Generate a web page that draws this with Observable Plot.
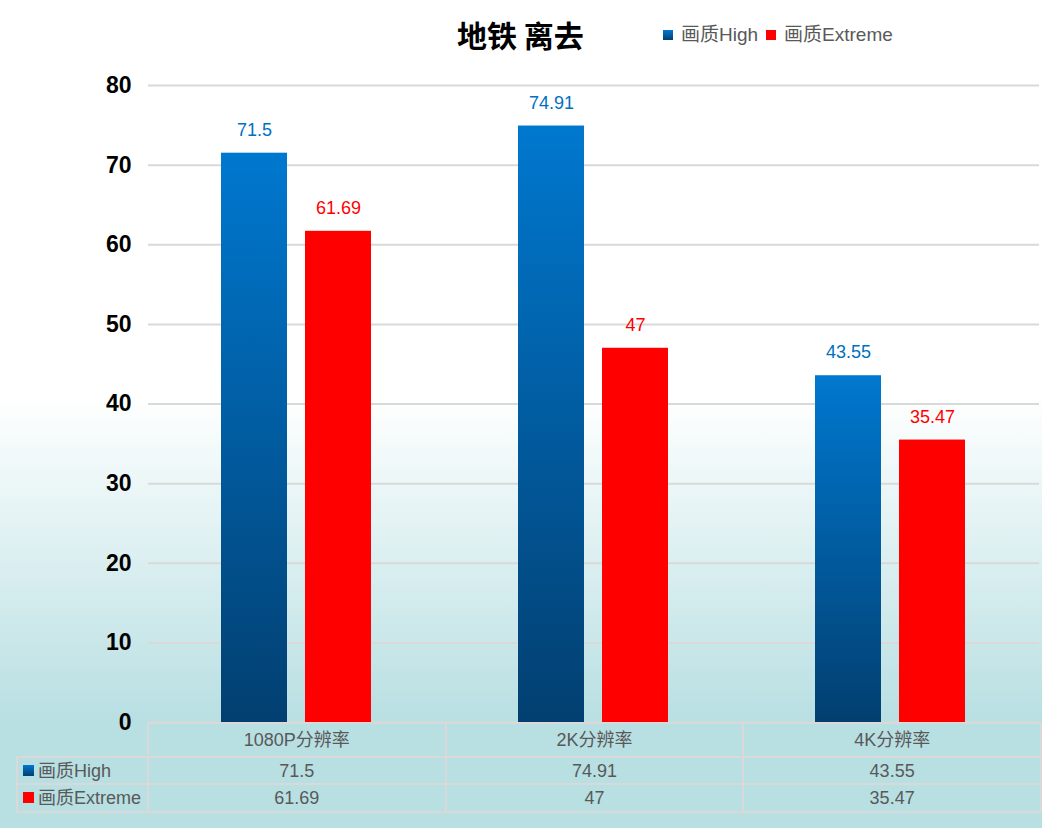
<!DOCTYPE html>
<html>
<head>
<meta charset="utf-8">
<script src="https://cdn.jsdelivr.net/npm/d3@7"></script>
<script src="https://cdn.jsdelivr.net/npm/@observablehq/plot@0.6"></script>
<style>
  html, body { margin: 0; padding: 0; }
  #wrap {
    position: relative; width: 1042px; height: 828px; overflow: hidden;
    background: linear-gradient(to bottom, #ffffff 0px, #ffffff 395px, #b8dfe2 722px, #b8dfe2 828px);
    font-family: "Liberation Sans", Arial, "Noto Sans CJK SC", sans-serif;
  }
  #head { position: relative; height: 60px; }
  #title {
    position: absolute; left: 457px; top: 14px; font-size: 30px; font-weight: 700;
    font-family: "Noto Sans CJK SC", sans-serif; color: #000; line-height: 40px; white-space: nowrap;
  }
  #legend { position: absolute; left: 663px; top: 23px; font-size: 19px; color: #595959; white-space: nowrap; line-height: 24px; }
  #legend .key { margin-right: 8px; }
  .key { display: inline-block; width: 10px; height: 10px; vertical-align: 1px; }
  .kb { background: linear-gradient(to bottom, #0078cf, #023f70); }
  .kr { background: #ff0000; }
  #chart { position: absolute; left: 0; top: 60px; }
  #tbl {
    position: absolute; left: 16px; top: 722px; border-collapse: collapse; table-layout: fixed;
    font-size: 18px; color: #595959;
  }
  #tbl td { border: 2px solid #d9d9d9; padding: 0; text-align: center; white-space: nowrap; line-height: 20px; }
  #tbl td.corner { border-top: none; border-left: none; }
  #tbl td.rh { text-align: left; padding-left: 5px; }
  #tbl td.rh .key { width: 11px; height: 11px; margin-right: 4px; }
  #tbl tr.h td { height: 32px; }
  #tbl tr.r1 td { height: 25px; }
  #tbl tr.r2 td { height: 26px; }
</style>
</head>
<body>
<div id="wrap">
  <div id="head">
    <div id="title">地铁 离去</div>
    <div id="legend"></div>
  </div>
  <div id="chart"></div>
  <table id="tbl"></table>
</div>
<script>
const categories = ["1080P分辨率", "2K分辨率", "4K分辨率"];
const seriesNames = ["画质High", "画质Extreme"];
const highValues = [71.5, 74.91, 43.55];
const extremeValues = [61.69, 47, 35.47];
const yTicks = [0, 10, 20, 30, 40, 50, 60, 70, 80];
const seriesColors = ["url(#gblue)", "#ff0000"];
const labelColors = ["#0070c0", "#ff0000"];

const high = categories.map((c, i) => ({category: c, series: seriesNames[0], value: highValues[i]}));
const extreme = categories.map((c, i) => ({category: c, series: seriesNames[1], value: extremeValues[i]}));

const chart = Plot.plot({
  width: 1042,
  height: 664,
  marginTop: 25,
  marginBottom: 2,
  marginLeft: 147,
  marginRight: 2,
  style: {background: "transparent", fontFamily: "'Liberation Sans', Arial, sans-serif", overflow: "visible"},
  fx: {domain: categories, padding: 0, axis: null, label: null},
  x: {domain: seriesNames, paddingInner: 0.212, paddingOuter: 0.857, axis: null, label: null},
  y: {domain: [0, 80], axis: null, label: null},
  marks: [
    Plot.gridY(yTicks, {stroke: "#d9d9d9", strokeWidth: 2, strokeOpacity: 1}),
    Plot.barY(high, {fx: "category", x: "series", y: "value", fill: seriesColors[0]}),
    Plot.barY(extreme, {fx: "category", x: "series", y: "value", fill: seriesColors[1]}),
    Plot.text(high, {fx: "category", x: "series", y: "value", text: d => String(d.value), dy: -23, fill: labelColors[0], fontSize: 18}),
    Plot.text(extreme, {fx: "category", x: "series", y: "value", text: d => String(d.value), dy: -23, fill: labelColors[1], fontSize: 18}),
    Plot.axisY(yTicks, {tickSize: 0, tickPadding: 17, fontSize: 23, fontWeight: "bold", fill: "#000", label: null, tickFormat: d => String(d)})
  ]
});

const defs = d3.select(chart).insert("defs", ":first-child");
const g = defs.append("linearGradient").attr("id", "gblue").attr("x1", 0).attr("y1", 0).attr("x2", 0).attr("y2", 1);
g.append("stop").attr("offset", "0%").attr("stop-color", "#0078cf");
g.append("stop").attr("offset", "100%").attr("stop-color", "#023f70");

document.getElementById("chart").appendChild(chart);

// legend
const legend = document.getElementById("legend");
legend.innerHTML =
  `<span class="key kb"></span><span>${seriesNames[0]}</span><span class="key kr" style="margin-left:8px"></span><span>${seriesNames[1]}</span>`;

// data table below the chart
const colW = (1040 - 147) / categories.length;
const tbl = document.getElementById("tbl");
let html = `<colgroup><col style="width:131px">${categories.map(() => `<col style="width:${colW}px">`).join("")}</colgroup>`;
html += `<tr class="h"><td class="corner"></td>${categories.map(c => `<td>${c}</td>`).join("")}</tr>`;
html += `<tr class="r1"><td class="rh"><span class="key kb"></span>${seriesNames[0]}</td>${highValues.map(v => `<td>${v}</td>`).join("")}</tr>`;
html += `<tr class="r2"><td class="rh"><span class="key kr"></span>${seriesNames[1]}</td>${extremeValues.map(v => `<td>${v}</td>`).join("")}</tr>`;
tbl.innerHTML = html;
</script>
</body>
</html>
